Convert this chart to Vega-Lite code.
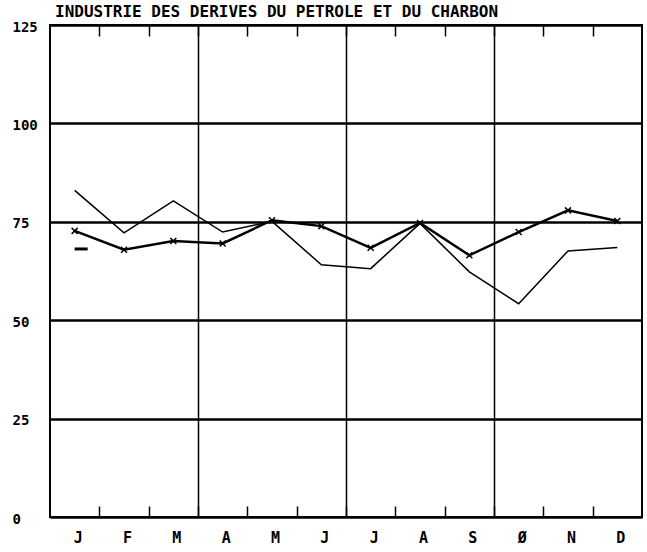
{
  "$schema": "https://vega.github.io/schema/vega-lite/v6.json",
  "width": 592,
  "height": 492,
  "autosize": "none",
  "padding": {"left": 50, "top": 25, "right": 5, "bottom": 35},
  "background": "white",
  "title": {
    "text": "INDUSTRIE DES DERIVES DU PETROLE ET DU CHARBON",
    "anchor": "start",
    "frame": "group",
    "font": "DejaVu Sans Mono",
    "fontSize": 16,
    "fontWeight": "bold",
    "color": "black",
    "dx": 5,
    "dy": 8,
    "offset": 8
  },
  "config": {
    "view": {"stroke": "black", "strokeWidth": 2}
  },
  "datasets": {
    "series": [
      {"month": 1, "serie": "A", "value": 83.0},
      {"month": 2, "serie": "A", "value": 72.2},
      {"month": 3, "serie": "A", "value": 80.3},
      {"month": 4, "serie": "A", "value": 72.4},
      {"month": 5, "serie": "A", "value": 75.1},
      {"month": 6, "serie": "A", "value": 64.1},
      {"month": 7, "serie": "A", "value": 63.1},
      {"month": 8, "serie": "A", "value": 74.6},
      {"month": 9, "serie": "A", "value": 62.3},
      {"month": 10, "serie": "A", "value": 54.2},
      {"month": 11, "serie": "A", "value": 67.6},
      {"month": 12, "serie": "A", "value": 68.5},
      {"month": 1, "serie": "B", "value": 72.7},
      {"month": 2, "serie": "B", "value": 67.9},
      {"month": 3, "serie": "B", "value": 70.1},
      {"month": 4, "serie": "B", "value": 69.5},
      {"month": 5, "serie": "B", "value": 75.4},
      {"month": 6, "serie": "B", "value": 73.9},
      {"month": 7, "serie": "B", "value": 68.4},
      {"month": 8, "serie": "B", "value": 74.7},
      {"month": 9, "serie": "B", "value": 66.5},
      {"month": 10, "serie": "B", "value": 72.4},
      {"month": 11, "serie": "B", "value": 77.9},
      {"month": 12, "serie": "B", "value": 75.2}
    ],
    "trait": [
      {"month": 1, "value": 68.1}
    ]
  },
  "encoding": {
    "y": {
      "field": "value", "type": "quantitative",
      "scale": {"domain": [0, 125], "nice": false, "zero": true},
      "axis": {
        "orient": "left",
        "values": [0, 25, 50, 75, 100, 125],
        "title": null,
        "domain": false,
        "ticks": false,
        "grid": true,
        "gridColor": "black",
        "gridWidth": 2.5,
        "labelAlign": "left",
        "labelBaseline": "middle",
        "labelPadding": 38,
        "labelFont": "DejaVu Sans Mono",
        "labelFontSize": 14,
        "labelFontWeight": "bold",
        "labelColor": "black",
        "labelOffset": 2,
        "labelBound": false,
        "labelFlush": false
      }
    }
  },
  "layer": [
    {
      "data": {"name": "series"},
      "transform": [{"filter": "datum.serie == 'A'"}],
      "mark": {"type": "line", "color": "black", "strokeWidth": 1.5},
      "encoding": {
        "x": {
          "field": "month", "type": "quantitative",
          "scale": {"domain": [0.5, 12.5], "nice": false, "zero": false},
          "axis": {
            "orient": "bottom",
            "values": [1, 1.5, 2, 2.5, 3, 3.5, 4, 4.5, 5, 5.5, 6, 6.5, 7, 7.5, 8, 8.5, 9, 9.5, 10, 10.5, 11, 11.5, 12],
            "title": null,
            "domain": false,
            "grid": true,
            "gridColor": "black",
            "gridWidth": 1.5,
            "gridOpacity": {"condition": {"test": "datum.value == 3.5 || datum.value == 6.5 || datum.value == 9.5", "value": 1}, "value": 0},
            "ticks": true,
            "tickSize": -11,
            "tickColor": "black",
            "tickWidth": 1.5,
            "tickOpacity": {"condition": {"test": "datum.value % 1 == 0", "value": 0}, "value": 1},
            "labelExpr": "datum.value % 1 == 0 ? ['J','F','M','A','M','J','J','A','S','Ø','N','D'][datum.value - 1] : ''",
            "labelFont": "DejaVu Sans Mono",
            "labelFontSize": 15,
            "labelFontWeight": "bold",
            "labelColor": "black",
            "labelPadding": 24,
            "labelOffset": 3,
            "labelOverlap": false,
            "labelFlush": false,
            "labelBound": false
          }
        }
      }
    },
    {
      "data": {"name": "series"},
      "transform": [{"filter": "datum.serie == 'B'"}],
      "mark": {"type": "line", "color": "black", "strokeWidth": 2.5},
      "encoding": {
        "x": {
          "field": "month", "type": "quantitative",
          "axis": {
            "orient": "top",
            "values": [1.5, 2.5, 3.5, 4.5, 5.5, 6.5, 7.5, 8.5, 9.5, 10.5, 11.5],
            "title": null,
            "domain": false,
            "grid": false,
            "labels": false,
            "ticks": true,
            "tickSize": -11,
            "tickColor": "black",
            "tickWidth": 1.5
          }
        }
      }
    },
    {
      "data": {"name": "series"},
      "transform": [{"filter": "datum.serie == 'B'"}],
      "mark": {"type": "point", "shape": "M-1,-1L1,1M-1,1L1,-1", "filled": false, "stroke": "black", "strokeWidth": 1.5, "size": 36, "opacity": 1},
      "encoding": {
        "x": {"field": "month", "type": "quantitative", "axis": null}
      }
    },
    {
      "data": {"name": "trait"},
      "mark": {"type": "point", "shape": "M0,-0.23H2V0.23H0Z", "filled": true, "color": "black", "size": 169, "opacity": 1},
      "encoding": {
        "x": {"field": "month", "type": "quantitative", "axis": null}
      }
    }
  ]
}
